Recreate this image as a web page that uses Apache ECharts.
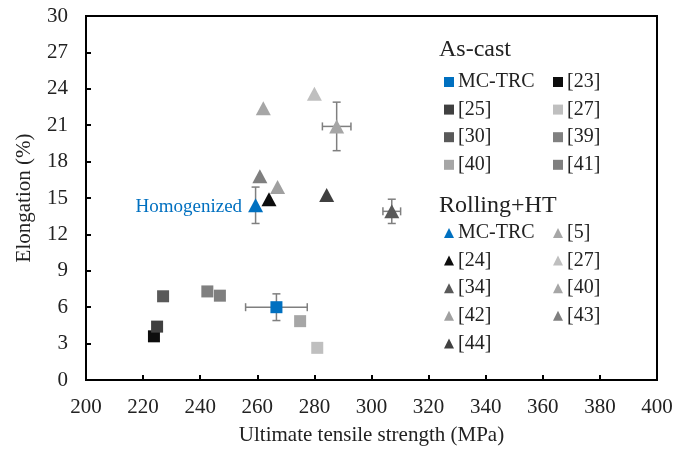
<!DOCTYPE html>
<html>
<head>
<meta charset="utf-8">
<script src="https://cdn.jsdelivr.net/npm/echarts@6/dist/echarts.min.js"></script>
<style>html,body{margin:0;padding:0;background:#fff}#c{width:689px;height:449px}</style>
</head>
<body>
<div id="c"></div>
<script>
// As-cast data
const acNames = ['MC-TRC', '[23]', '[25]', '[27]', '[30]', '[39]', '[40]', '[41]'];
const acUTS   = [266.7, 223.8, 224.9, 281.0, 227.0, 242.5, 275.0, 246.9];
const acElong = [6.0, 3.6, 4.4, 2.65, 6.9, 7.3, 4.85, 6.95];
const acColors = ['#0070c0', '#0d0d0d', '#404040', '#bfbfbf', '#595959', '#808080', '#a6a6a6', '#7f7f7f'];

// Rolling + HT data
const rhNames = ['MC-TRC', '[5]', '[24]', '[27]', '[34]', '[40]', '[42]', '[43]', '[44]'];
const rhUTS   = [259.4, 262.1, 264.1, 280.0, 307.1, 287.8, 267.1, 260.9, 284.3];
const rhElong = [14.4, 22.4, 14.9, 23.6, 13.9, 20.9, 15.9, 16.8, 15.25];
const rhColors = ['#0070c0', '#a6a6a6', '#0d0d0d', '#bfbfbf', '#595959', '#a6a6a6', '#a0a0a0', '#7f7f7f', '#404040'];

// Error bars: centre UTS, centre elongation, UTS half-range, elongation half-range
const errUTS   = [266.7, 259.4, 287.8, 307.1];
const errElong = [6.0, 14.4, 20.9, 13.9];
const errDX    = [10.8, 0, 5.0, 3.1];
const errDY    = [1.1, 1.5, 2.0, 1.0];

// Axis ticks
const xMin = 200, xMax = 400, xStep = 20;
const yMin = 0, yMax = 30, yStep = 3;

const FONT = 'Liberation Serif';
const series = [];

series.push({
  type: 'custom',
  name: 'err',
  z: 1,
  silent: true,
  data: errUTS.map((x, i) => [x, errElong[i], errDX[i], errDY[i]]),
  renderItem: function (params, api) {
    const x = api.value(0), y = api.value(1), dx = api.value(2), dy = api.value(3);
    const st = { stroke: '#7f7f7f', lineWidth: 1.5 };
    const children = [];
    const cap = 4;
    if (dy > 0) {
      const t = api.coord([x, y + dy]), b = api.coord([x, y - dy]);
      children.push({ type: 'line', shape: { x1: t[0], y1: t[1], x2: b[0], y2: b[1] }, style: st });
      children.push({ type: 'line', shape: { x1: t[0] - cap, y1: t[1], x2: t[0] + cap, y2: t[1] }, style: st });
      children.push({ type: 'line', shape: { x1: b[0] - cap, y1: b[1], x2: b[0] + cap, y2: b[1] }, style: st });
    }
    if (dx > 0) {
      const l = api.coord([x - dx, y]), r = api.coord([x + dx, y]);
      children.push({ type: 'line', shape: { x1: l[0], y1: l[1], x2: r[0], y2: r[1] }, style: st });
      children.push({ type: 'line', shape: { x1: l[0], y1: l[1] - cap, x2: l[0], y2: l[1] + cap }, style: st });
      children.push({ type: 'line', shape: { x1: r[0], y1: r[1] - cap, x2: r[0], y2: r[1] + cap }, style: st });
    }
    return { type: 'group', children: children };
  }
});

acNames.forEach((n, i) => {
  series.push({
    type: 'scatter', name: 'ac|' + n, z: 3,
    symbol: 'rect', symbolSize: 12,
    itemStyle: { color: acColors[i], opacity: 1 },
    data: [[acUTS[i], acElong[i]]]
  });
});
rhNames.forEach((n, i) => {
  const s = {
    type: 'scatter', name: 'rh|' + n, z: i === 0 ? 2 : 3,
    symbol: 'triangle', symbolSize: [15, 14],
    itemStyle: { color: rhColors[i], opacity: 1 },
    data: [[rhUTS[i], rhElong[i]]]
  };
  if (i === 0) {
    s.label = { show: true, position: 'left', distance: 6, formatter: 'Homogenized',
      color: '#0070c0', fontFamily: FONT, fontSize: 19, offset: [0, 2] };
  }
  series.push(s);
});

function leg(prefix, names, left, top, icon) {
  return {
    orient: 'vertical', left: left, top: top,
    itemWidth: 10, itemHeight: 10, itemGap: 7.6, icon: icon,
    selectedMode: false, padding: 0,
    data: names.map(n => prefix + n),
    formatter: name => name.split('|')[1],
    textStyle: { fontFamily: FONT, fontSize: 20, color: '#222', lineHeight: 20, padding: [0, 0, 0, -1] }
  };
}

const acCol1 = ['MC-TRC', '[25]', '[30]', '[40]'];
const acCol2 = ['[23]', '[27]', '[39]', '[41]'];
const rhCol1 = ['MC-TRC', '[24]', '[34]', '[42]', '[44]'];
const rhCol2 = ['[5]', '[27]', '[40]', '[43]'];

const option = {
  animation: false,
  backgroundColor: '#fff',
  title: [
    { text: 'As-cast', left: 439, top: 38, padding: 0,
      textStyle: { fontFamily: FONT, fontSize: 24, fontWeight: 'normal', color: '#222' } },
    { text: 'Rolling+HT', left: 439, top: 194, padding: 0,
      textStyle: { fontFamily: FONT, fontSize: 24, fontWeight: 'normal', color: '#222' } }
  ],
  legend: [
    leg('ac|', acCol1, 444, 72, 'rect'),
    leg('ac|', acCol2, 553, 72, 'rect'),
    leg('rh|', rhCol1, 444, 223, 'triangle'),
    leg('rh|', rhCol2, 553, 223, 'triangle')
  ],
  grid: { left: 86, right: 32, top: 16, bottom: 69, containLabel: false, outerBoundsMode: 'none',
    show: true, borderColor: '#000', borderWidth: 2, backgroundColor: 'transparent' },
  xAxis: {
    type: 'value', min: xMin, max: xMax, interval: xStep,
    name: 'Ultimate tensile strength (MPa)', nameLocation: 'middle', nameGap: 45,
    nameTextStyle: { fontFamily: FONT, fontSize: 21, color: '#222' },
    axisLine: { show: true, lineStyle: { color: '#000', width: 2 } },
    axisTick: { show: true, inside: true, length: 5, lineStyle: { color: '#000', width: 2 } },
    axisLabel: { fontFamily: FONT, fontSize: 21, color: '#222', margin: 17 },
    splitLine: { show: false }
  },
  yAxis: {
    type: 'value', min: yMin, max: yMax, interval: yStep,
    name: 'Elongation (%)', nameLocation: 'middle', nameGap: 51, nameRotate: 90,
    nameTextStyle: { fontFamily: FONT, fontSize: 21, color: '#222' },
    axisLine: { show: true, lineStyle: { color: '#000', width: 2 } },
    axisTick: { show: true, inside: true, length: 5, lineStyle: { color: '#000', width: 2 } },
    axisLabel: { fontFamily: FONT, fontSize: 21, color: '#222', margin: 18 },
    splitLine: { show: false }
  },
  series: series
};

const chart = echarts.init(document.getElementById('c'), null, { renderer: 'canvas' });
chart.setOption(option);
</script>
</body>
</html>
